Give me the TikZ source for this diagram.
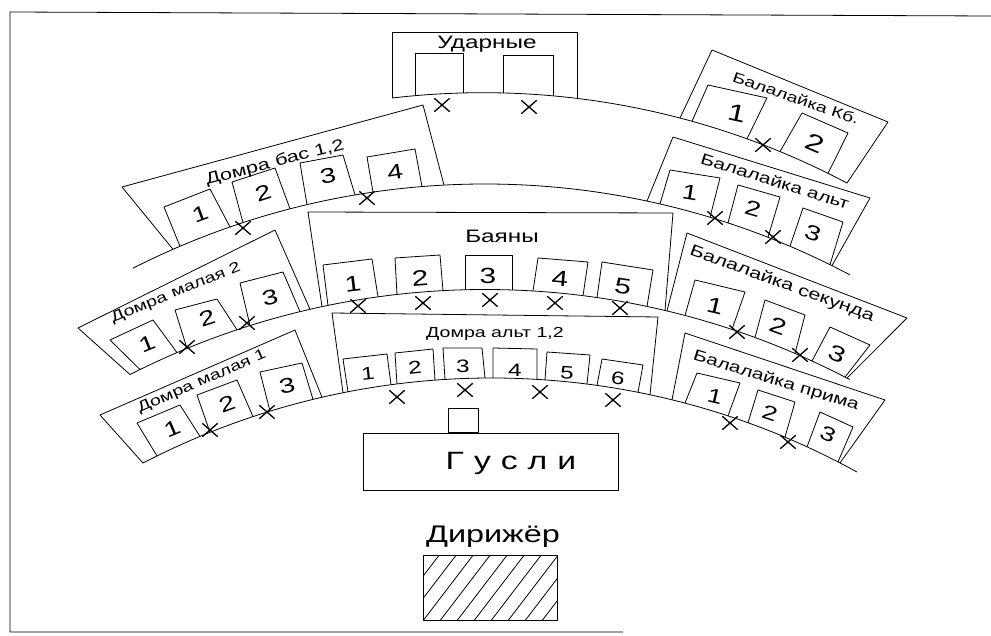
\documentclass[tikz,border=0pt]{standalone}
\usepackage{fontspec}
\setmainfont{Liberation Sans}[FakeStretch=1.35]
\usetikzlibrary{shapes.misc}
\newcommand\seat[7]{\draw[ln] (#2,{#1(#2)}) -- (#3,#4) -- (#5,#6) -- (#7,{#1(#7)});}
\newcommand\fs[1]{\fontsize{#1}{#1}\selectfont}
\tikzset{
  ln/.style={line width=0.8pt, line join=round},
  chair/.style={cross out, draw, line width=1.3pt, minimum width=14pt, minimum height=12pt, inner sep=0pt},
  lbl/.style={inner sep=0pt, font=\fs{16}},
  num/.style={inner sep=0pt},
  declare function={
    yA(\x)=871.2-100*sqrt(60.6062-((\x-483)/100)^2);
    yB(\x)=962-100*sqrt(60.5284-((\x-485)/100)^2);
    yC(\x)=1073-100*sqrt(61.3872-((\x-485)/100)^2);
    yD(\x)=1135.1-100*sqrt(57.3200-((\x-491.6)/100)^2);
  }
}
\begin{document}
\begin{tikzpicture}[x=1pt,y=-1pt]
\useasboundingbox (0,0) rectangle (991,636);
% frame
\draw[ln] (991,16) -- (10,12) -- (10,632) -- (623,632);
% arcs
\draw[ln] plot[domain=392:847, samples=80] (\x,{yA(\x)});
\draw[ln] plot[domain=133:850, samples=120] (\x,{yB(\x)});
\draw[ln] plot[domain=130:850, samples=120] (\x,{yC(\x)});
\draw[ln] plot[domain=143:857, samples=120] (\x,{yD(\x)});
% Udarnye
\draw[ln] (392,{yA(392)}) -- (392,32) -- (577,32) -- (577,{yA(577)});
\seat{yA}{415}{415}{53}{463}{53}{463}
\seat{yA}{503}{503}{55}{553}{55}{553}
\node[lbl, font=\fs{18}] (udarnye) at (487,44) {Ударные};
% Domra bas
\draw[ln] (173,{yB(173)}) -- (122,187) -- (423,105) -- (444,{yB(444)});
\seat{yB}{180}{164}{207}{210}{189}{230}
\seat{yB}{243}{232}{182}{275}{168}{290}
\seat{yB}{307}{300}{163}{343}{155}{355}
\seat{yB}{373}{367}{157}{415}{149}{422}
\node[lbl, rotate=14.5] (dbas) at (275,163) {Домра бас 1,2};
\node[num, font=\fs{21}, rotate=20] (db1) at (200,214) {1};
\node[num, font=\fs{21}, rotate=18] (db2) at (263,193) {2};
\node[num, font=\fs{21}, rotate=11] (db3) at (328,176) {3};
\node[num, font=\fs{21}, rotate=9] (db4) at (395,172) {4};
% Domra malaya 2
\draw[ln] (130,{yC(130)}) -- (78,328) -- (275,230) -- (310,{yC(310)});
\seat{yC}{140}{110}{340}{153}{320}{177}
\seat{yC}{187}{175}{310}{217}{299}{237}
\seat{yC}{250}{240}{283}{283}{272}{300}
\node[lbl, font=\fs{14.5}, rotate=22] (dm2) at (176,293) {Домра малая 2};
\node[num, font=\fs{21}, rotate=22] (dm21) at (147,344) {1};
\node[num, font=\fs{21}, rotate=18] (dm22) at (207,318) {2};
\node[num, font=\fs{21}, rotate=14] (dm23) at (270,298) {3};
% Domra malaya 1
\draw[ln] (143,{yD(143)}) -- (100,415) -- (295,330) -- (322,{yD(322)});
\seat{yD}{157}{137}{423}{180}{405}{200}
\seat{yD}{210}{197}{395}{237}{380}{253}
\seat{yD}{270}{260}{372}{302}{363}{313}
\node[lbl, font=\fs{14.5}, rotate=23.5] (dm1) at (202,382) {Домра малая 1};
\node[num, font=\fs{21}, rotate=23] (dm11) at (172,429) {1};
\node[num, font=\fs{21}, rotate=20] (dm12) at (227,404) {2};
\node[num, font=\fs{21}, rotate=12] (dm13) at (287,386) {3};
% Bayany
\draw[ln] (322,{yC(322)}) -- (308,212) -- (673,213) -- (665,{yC(665)});
\seat{yC}{328}{323}{265}{372}{259}{378}
\seat{yC}{397}{395}{258}{440}{255}{443}
\seat{yC}{465}{465}{255}{512}{255}{512}
\seat{yC}{533}{538}{258}{588}{262}{583}
\seat{yC}{597}{602}{262}{653}{270}{647}
\node[lbl, font=\fs{18}] (bayany) at (502,236) {Баяны};
\node[num, font=\fs{22}, rotate=7] (b1) at (353,284) {1};
\node[num, font=\fs{22}, rotate=4] (b2) at (420,278) {2};
\node[num, font=\fs{22}] (b3) at (488,276) {3};
\node[num, font=\fs{22}, rotate=-5] (b4) at (560,279) {4};
\node[num, font=\fs{22}, rotate=-9] (b5) at (623,286) {5};
% Domra alt
\draw[ln] (343,{yD(343)}) -- (332,313) -- (658,317) -- (650,{yD(650)});
\seat{yD}{348}{343}{359}{387}{354}{391}
\seat{yD}{397}{395}{353}{433}{349}{435}
\seat{yD}{445}{443}{348}{482}{348}{485}
\seat{yD}{493}{493}{348}{537}{349}{537}
\seat{yD}{545}{547}{352}{590}{355}{587}
\seat{yD}{597}{602}{359}{643}{365}{638}
\node[lbl, font=\fs{14.5}] (dalt) at (495,334) {Домра альт 1,2};
\node[num, font=\fs{18}, rotate=6] (da1) at (368,374) {1};
\node[num, font=\fs{18}, rotate=6] (da2) at (415,368) {2};
\node[num, font=\fs{18}] (da3) at (463,366) {3};
\node[num, font=\fs{18}] (da4) at (515,370) {4};
\node[num, font=\fs{18}, rotate=-4] (da5) at (567,373) {5};
\node[num, font=\fs{18}, rotate=-8] (da6) at (618,378) {6};
% Balalaika Kb
\draw[ln] (680,{yA(680)}) -- (712,50) -- (888,122) -- (847,{yA(847)});
\seat{yA}{692}{708}{85}{767}{98}{747}
\seat{yA}{780}{802}{113}{848}{133}{828}
\node[lbl, font=\fs{14.5}, rotate=-19] (bkb) at (796,98) {Балалайка Кб.};
\node[num, font=\fs{24}, rotate=-12] (bk1) at (737,113) {1};
\node[num, font=\fs{24}, rotate=-23] (bk2) at (815,143) {2};
% Balalaika alt
\draw[ln] (647,{yB(647)}) -- (673,137) -- (870,198) -- (832,{yB(832)});
\seat{yB}{660}{670}{170}{720}{178}{710}
\seat{yB}{728}{738}{185}{780}{197}{768}
\seat{yB}{790}{803}{208}{843}{222}{830}
\node[lbl, font=\fs{15.5}, rotate=-17.5] (balt) at (775,181) {Балалайка альт};
\node[num, font=\fs{21}, rotate=-9] (ba1) at (690,193) {1};
\node[num, font=\fs{21}, rotate=-16] (ba2) at (753,209) {2};
\node[num, font=\fs{21}, rotate=-19] (ba3) at (813,233) {3};
% Balalaika sekunda
\draw[ln] (667,{yC(667)}) -- (687,233) -- (907,318) -- (847,{yC(847)});
\seat{yC}{685}{695}{280}{745}{292}{732}
\seat{yC}{755}{765}{300}{805}{315}{795}
\seat{yC}{812}{830}{327}{870}{345}{845}
\node[lbl, rotate=-20] (bsek) at (782,284) {Балалайка секунда};
\node[num, font=\fs{22}, rotate=-13] (bs1) at (715,306) {1};
\node[num, font=\fs{22}, rotate=-20] (bs2) at (778,326) {2};
\node[num, font=\fs{22}, rotate=-24] (bs3) at (837,354) {3};
% Balalaika prima
\draw[ln] (672,{yD(672)}) -- (685,333) -- (885,400) -- (840,{yD(840)});
\seat{yD}{685}{697}{373}{740}{383}{728}
\seat{yD}{748}{758}{390}{795}{402}{785}
\seat{yD}{807}{820}{412}{853}{427}{838}
\node[lbl, font=\fs{15.5}, rotate=-17] (bpr) at (776,381) {Балалайка прима};
\node[num, font=\fs{20}, rotate=-13] (bp1) at (715,396) {1};
\node[num, font=\fs{20}, rotate=-18] (bp2) at (770,413) {2};
\node[num, font=\fs{20}, rotate=-24] (bp3) at (828,434) {3};
% chairs
\foreach \n/\p in {a1/{442,105}, a2/{529,107}, a3/{763,145},
  b1/{243,228}, b2/{367,198}, b3/{715,218}, b4/{773,237},
  c1/{187,347}, c2/{247,323}, c3/{358,306}, c4/{423,303}, c5/{490,300}, c6/{555,303}, c7/{620,308}, c8/{737,332}, c9/{800,355},
  d1/{210,430}, d2/{267,412}, d3/{397,397}, d4/{465,390}, d5/{540,392}, d6/{613,400}, d7/{730,423}, d8/{788,442}}
  \node[chair] (x\n) at (\p) {};
% Gusli
\node[draw, ln, minimum width=30pt, minimum height=24pt, inner sep=0pt] (stool) at (463,420) {};
\node[draw, ln, minimum width=255pt, minimum height=57pt, inner sep=0pt] (gusli) at (490.5,461.5) {};
\node[inner sep=0pt, font=\fs{25}] (guslitxt) at (511,463) {Г\hspace{10pt}у\hspace{10pt}с\hspace{10pt}л\hspace{10pt}и};
% Conductor
\node[inner sep=0pt, font=\fs{24}] (dirizher) at (493,537) {Дирижёр};
\begin{scope}
  \clip (423,555) rectangle (557,620);
  \foreach \k in {0,...,11} \draw[ln] ({371+\k*17},622) -- ++(52,-68);
\end{scope}
\node[draw, ln, minimum width=134pt, minimum height=65pt, inner sep=0pt] (podium) at (490,587.5) {};
\end{tikzpicture}
\end{document}
